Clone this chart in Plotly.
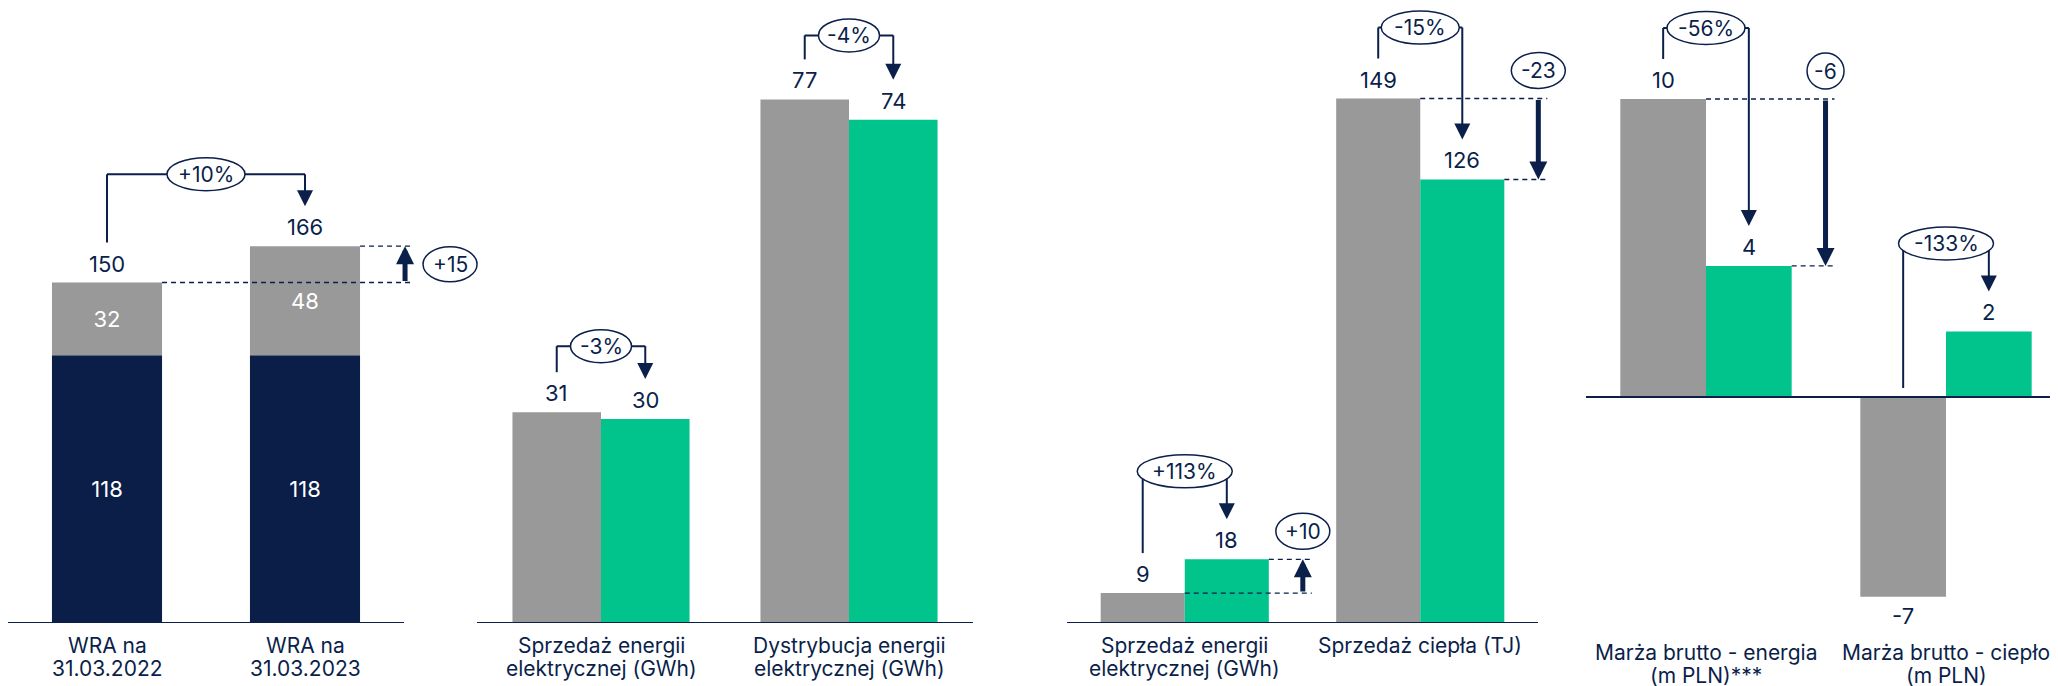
import plotly.graph_objects as go

# ---------------- data ----------------
p1_categories = ["WRA na<br>31.03.2022", "WRA na<br>31.03.2023"]
p1_base = [118, 118]
p1_upper = [32, 48]
p1_total = [150, 166]
p1_pct = "+10%"
p1_delta = "+15"

p2_categories = ["Sprzedaż energii<br>elektrycznej (GWh)", "Dystrybucja energii<br>elektrycznej (GWh)"]
p2_prev = [31, 77]
p2_curr = [30, 74]
p2_prev_labels = ["31", "77"]
p2_curr_labels = ["30", "74"]
p2_pct = ["-3%", "-4%"]

p3_categories = ["Sprzedaż energii<br>elektrycznej (GWh)", "Sprzedaż ciepła (TJ)"]
p3_prev = [8.5, 149]
p3_curr = [18.1, 126]
p3_prev_labels = ["9", "149"]
p3_curr_labels = ["18", "126"]
p3_pct = ["+113%", "-15%"]
p3_delta = ["+10", "-23"]

p4_categories = ["Marża brutto - energia<br>(m PLN)***", "Marża brutto - ciepło<br>(m PLN)"]
p4_prev = [10.0, -6.7]
p4_curr = [4.4, 2.2]
p4_prev_labels = ["10", "-7"]
p4_curr_labels = ["4", "2"]
p4_pct = ["-56%", "-133%"]
p4_delta = ["-6", None]

# ---------------- style / geometry (figure pixels) ----------------
W, H = 2058, 686
NAVY = "#0b1f4b"
BAR_NAVY = "#0a1e48"
GRAY = "#999999"
GREEN = "#00c48c"
FONT = "Inter"
BOTTOM_PX = 615.0           # pixel row of the plot-area bottom
TXT = 22
CAT_TXT = 21

# axis: pixel span of the baseline, extra room on the right for decorations
PANELS = {
    1: dict(xpx=(0, 396), extra=90, scale=2.27, zero=BOTTOM_PX, lab=(637, 660)),
    2: dict(xpx=(469, 965), extra=0, scale=6.8, zero=BOTTOM_PX, lab=(637, 660)),
    3: dict(xpx=(1059, 1530), extra=40, scale=3.52, zero=BOTTOM_PX, lab=(637, 660)),
    4: dict(xpx=(1578, 2060), extra=0, scale=29.8, zero=389.0, lab=(644, 667)),
}
for k, p in PANELS.items():
    p["spacing"] = (p["xpx"][1] - p["xpx"][0]) / 2.0

W1 = 0.556   # stacked bar width (panel 1)
WG = 0.357   # grouped bar width


def xr(k):
    return "x" if k == 1 else f"x{k}"


def yr(k):
    return "y" if k == 1 else f"y{k}"


def dy(k, px):
    return px / PANELS[k]["scale"]


def dx(k, px):
    return px / PANELS[k]["spacing"]


fig = go.Figure()

# ---------------- bars ----------------
fig.add_trace(go.Bar(x=p1_categories, y=p1_base, marker_color=BAR_NAVY, width=W1,
                     text=[str(v) for v in p1_base], textposition="inside",
                     insidetextanchor="middle", textfont=dict(color="white", size=TXT, family=FONT),
                     xaxis="x", yaxis="y", marker_line_width=0))
fig.add_trace(go.Bar(x=p1_categories, y=p1_upper, base=p1_base, marker_color=GRAY, width=W1,
                     text=[str(v) for v in p1_upper], textposition="inside",
                     insidetextanchor="middle", textfont=dict(color="white", size=TXT, family=FONT),
                     xaxis="x", yaxis="y", marker_line_width=0))

for k, cats, prev, curr in [(2, p2_categories, p2_prev, p2_curr),
                            (3, p3_categories, p3_prev, p3_curr),
                            (4, p4_categories, p4_prev, p4_curr)]:
    fig.add_trace(go.Bar(x=cats, y=prev, marker_color=GRAY, width=WG, offset=-WG,
                         xaxis=xr(k), yaxis=yr(k), marker_line_width=0))
    fig.add_trace(go.Bar(x=cats, y=curr, marker_color=GREEN, width=WG, offset=0,
                         xaxis=xr(k), yaxis=yr(k), marker_line_width=0))


# ---------------- helpers for decorations ----------------
def line(k, x0, y0, x1, y1, width=2, dash=None):
    fig.add_shape(type="line", xref=xr(k), yref=yr(k), x0=x0, y0=y0, x1=x1, y1=y1,
                  layer="above", line=dict(color=NAVY, width=width, dash=dash))


ellipses = []


def ellipse(k, cx, cy, text, ew, eh, size=21):
    ellipses.append((k, cx, cy, text, ew, eh, size))


def value_label(k, x, v, text):
    shift = 19 if v >= 0 else -19
    fig.add_annotation(xref=xr(k), yref=yr(k), x=x, y=v, text=text, showarrow=False,
                       yshift=shift, font=dict(color=NAVY, size=TXT, family=FONT))


def arrow_head(k, x, y, length_px, width=2, size=1.6):
    fig.add_annotation(xref=xr(k), yref=yr(k), x=x, y=y, ax=0, ay=-length_px, text="",
                       showarrow=True, arrowhead=2, arrowsize=size, arrowwidth=width,
                       arrowcolor=NAVY, standoff=0, startstandoff=0)


def pct_bracket(k, xl, xr_, v0, v1, text, hoff):
    start = (v0 + dy(k, 40)) if v0 > 0 else dy(k, 9)
    tip = v1 + dy(k, 40)
    top = max(v0, v1, 0) + dy(k, hoff)
    line(k, xl, start, xl, top)
    line(k, xl, top, xr_, top)
    line(k, xr_, top, xr_, tip + dy(k, 10))
    arrow_head(k, xr_, tip, 16)
    ellipse(k, (xl + xr_) / 2, top, text, 17 * len(text) + 10, 33)


def thick_arrow(k, x, v_from, v_to):
    fig.add_annotation(xref=xr(k), yref=yr(k), x=x, y=v_to, ax=0,
                       ay=(v_to - v_from) * PANELS[k]["scale"], text="", showarrow=True,
                       arrowhead=2, arrowsize=0.72, arrowwidth=5, arrowcolor=NAVY,
                       standoff=0, startstandoff=0)


def delta_vertical(k, i, v0, v1, text):
    ax_x = i + WG + dx(k, 34)
    end_x = ax_x + dx(k, 9)
    line(k, i, v0, end_x, v0, width=1.3, dash="5px,4px")
    line(k, i + WG, v1, end_x, v1, width=1.3, dash="5px,4px")
    thick_arrow(k, ax_x, v0, v1)
    ellipse(k, ax_x, max(v0, v1) + dy(k, 28), text, 17 * len(text) + 3, 36)


# ---------------- baselines ----------------
for k in PANELS:
    line(k, -0.5, 0, 1.5, 0, width=2)

# ---------------- panel 1 decorations ----------------
for i, t in enumerate(p1_total):
    value_label(1, i, t, str(t))
pct_bracket(1, 0, 1, p1_total[0], p1_total[1], p1_pct, 72)
ax1 = 1 + W1 / 2 + dx(1, 45)
line(1, W1 / 2, p1_total[0], ax1 + dx(1, 5), p1_total[0], width=1.3, dash="5px,4px")
line(1, 1 + W1 / 2, p1_total[1], ax1 + dx(1, 8), p1_total[1], width=1.3, dash="5px,4px")
thick_arrow(1, ax1, p1_total[0], p1_total[1])
ellipse(1, ax1 + dx(1, 45), (p1_total[0] + p1_total[1]) / 2, p1_delta, 17 * len(p1_delta) + 3, 35)

# ---------------- panels 2-4 decorations ----------------
hoffs = {2: [66, 64], 3: [88, 71], 4: [71, 88]}
data = {2: (p2_prev, p2_curr, p2_prev_labels, p2_curr_labels, p2_pct, [None, None]),
        3: (p3_prev, p3_curr, p3_prev_labels, p3_curr_labels, p3_pct, p3_delta),
        4: (p4_prev, p4_curr, p4_prev_labels, p4_curr_labels, p4_pct, p4_delta)}
for k, (prev, curr, pl, cl, pct, delta) in data.items():
    for i in range(2):
        value_label(k, i - WG / 2, prev[i], pl[i])
        value_label(k, i + WG / 2, curr[i], cl[i])
        pct_bracket(k, i - WG / 2, i + WG / 2, prev[i], curr[i], pct[i], hoffs[k][i])
        if delta[i]:
            delta_vertical(k, i, prev[i], curr[i], delta[i])

# ellipses last so they cover the bracket lines
for k, cx, cy, text, ew, eh, size in ellipses:
    fig.add_shape(type="circle", xref=xr(k), yref=yr(k), xsizemode="pixel", ysizemode="pixel",
                  xanchor=cx, yanchor=cy, x0=-ew / 2, x1=ew / 2, y0=-eh / 2, y1=eh / 2,
                  fillcolor="white", line=dict(color=NAVY, width=1.5), layer="above")
    fig.add_annotation(xref=xr(k), yref=yr(k), x=cx, y=cy, text=text, showarrow=False,
                       font=dict(color=NAVY, size=size, family=FONT))

# ---------------- category labels (one annotation per text line) ----------------
all_cats = {1: p1_categories, 2: p2_categories, 3: p3_categories, 4: p4_categories}
for k, cats in all_cats.items():
    for i, c in enumerate(cats):
        for j, part in enumerate(c.split("<br>")):
            fig.add_annotation(xref=xr(k), yref="paper", x=i, y=(H - PANELS[k]["lab"][j]) / H,
                               text=part, showarrow=False, yanchor="middle",
                               font=dict(color=NAVY, size=CAT_TXT, family=FONT))

# ---------------- axes ----------------
ydom = [(H - BOTTOM_PX) / H, 1.0]
layout_axes = {}
for k, p in PANELS.items():
    xkey = "xaxis" if k == 1 else f"xaxis{k}"
    ykey = "yaxis" if k == 1 else f"yaxis{k}"
    x1px = p["xpx"][1] + p["extra"]
    layout_axes[xkey] = dict(
        domain=[p["xpx"][0] / W, min(x1px / W, 1.0)],
        range=[-0.5, 1.5 + p["extra"] / p["spacing"]],
        anchor=yr(k), type="category", showgrid=False, zeroline=False,
        showline=False, ticks="", showticklabels=False, fixedrange=True)
    layout_axes[ykey] = dict(
        domain=ydom, range=[-(BOTTOM_PX - p["zero"]) / p["scale"], p["zero"] / p["scale"]],
        anchor=xr(k), showgrid=False, showticklabels=False, ticks="",
        zeroline=False, fixedrange=True)

fig.update_layout(
    width=W, height=H, margin=dict(l=0, r=0, t=0, b=0),
    paper_bgcolor="white", plot_bgcolor="white",
    barmode="overlay", showlegend=False,
    font=dict(family=FONT, color=NAVY),
    **layout_axes,
)

fig.write_html("out.html")
